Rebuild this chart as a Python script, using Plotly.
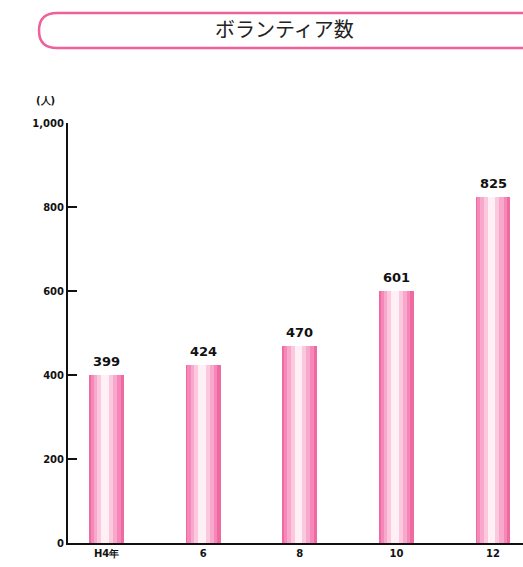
import plotly.graph_objects as go

# Volunteer counts by year (Heisei)
years = ["H4年", "6", "8", "10", "12"]
volunteers = [399, 424, 470, 601, 825]
y_ticks = [0, 200, 400, 600, 800, 1000]
y_tick_text = ["0", "200", "400", "600", "800", "1,000"]

W, H = 523, 567
ML, MR, MT, MB = 68, 0, 123, 24
PW, PH = W - ML - MR, H - MT - MB

xs = list(range(len(years)))

# Layered bars give the pink-white-pink cylinder shading
layers = [
    (0.36, "#f06aa2", 0.0),
    (0.31, "#f588b8", -0.01),
    (0.24, "#f8a8ca", -0.01),
    (0.16, "#fbc8de", -0.015),
    (0.08, "#fff0f6", -0.015),
]

fig = go.Figure()
for w, c, dx in layers:
    fig.add_trace(go.Bar(
        x=[x + dx for x in xs], y=volunteers, width=w,
        marker=dict(color=c, line=dict(width=0)),
        hoverinfo="skip", showlegend=False,
    ))


def px_x(px):
    return (px - ML) / PW


def px_y(py):
    return (H - MB - py) / PH


annotations = [
    dict(text=str(v), x=x, y=v, xref="x", yref="y", showarrow=False,
         xanchor="center", yanchor="bottom", yshift=4,
         font=dict(family="DejaVu Sans", size=13, color="#111111", weight="bold"))
    for x, v in zip(xs, volunteers)
]

# rounded title frame (right end runs off the page)
x0, x1 = px_x(39), px_x(540)
y0, y1 = px_y(48), px_y(13)
rx, ry = 18 / PW, 17.5 / PH
path = (
    f"M {x0 + rx} {y1} L {x1 - rx} {y1} "
    f"Q {x1} {y1} {x1} {y1 - ry} "
    f"Q {x1} {y0} {x1 - rx} {y0} "
    f"L {x0 + rx} {y0} "
    f"Q {x0} {y0} {x0} {y0 + ry} "
    f"Q {x0} {y1} {x0 + rx} {y1} Z"
)

annotations += [
    dict(text="ボランティア数", x=px_x(284), y=px_y(29), xref="paper", yref="paper",
         showarrow=False, font=dict(family="Noto Sans CJK JP", size=20, color="#222222"),
         xanchor="center", yanchor="middle"),
    dict(text="(人)", x=px_x(45), y=px_y(101), xref="paper", yref="paper",
         showarrow=False, font=dict(family="DejaVu Sans", size=10, color="#111111", weight="bold"),
         xanchor="center", yanchor="middle"),
]

fig.update_layout(
    width=W, height=H,
    margin=dict(l=ML, r=MR, t=MT, b=MB),
    paper_bgcolor="white", plot_bgcolor="white",
    barmode="overlay", bargap=0,
    shapes=[dict(type="path", path=path, xref="paper", yref="paper",
                 line=dict(color="#f0609a", width=2.5), fillcolor="white",
                 layer="below")],
    annotations=annotations,
    xaxis=dict(
        range=[-0.4, 4.31], tickmode="array", tickvals=xs, ticktext=years,
        showline=True, linecolor="#111111", linewidth=2, ticks="",
        showgrid=False, zeroline=False,
        tickfont=dict(family="DejaVu Sans", size=10, color="#111111", weight="bold"),
    ),
    yaxis=dict(
        range=[0, 1000], tickmode="array", tickvals=y_ticks, ticktext=y_tick_text,
        showline=True, linecolor="#111111", linewidth=2,
        ticks="inside", ticklen=9, tickwidth=2, tickcolor="#111111",
        showgrid=False, zeroline=False,
        tickfont=dict(family="DejaVu Sans", size=10, color="#111111", weight="bold"),
    ),
)

fig.write_html("out.html")
